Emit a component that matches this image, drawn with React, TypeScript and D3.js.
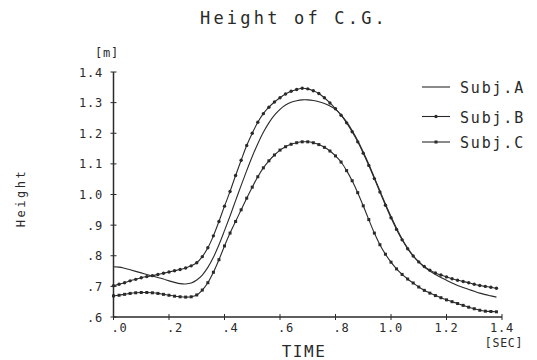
import React from "react";
import * as d3 from "d3";

const TIME_S = [
  0.0, 0.02, 0.04, 0.06, 0.08, 0.1, 0.12, 0.14, 0.16, 0.18,
  0.2, 0.22, 0.24, 0.26, 0.28, 0.3, 0.32, 0.34, 0.36, 0.38,
  0.4, 0.42, 0.44, 0.46, 0.48, 0.5, 0.52, 0.54, 0.56, 0.58,
  0.6, 0.62, 0.64, 0.66, 0.68, 0.7, 0.72, 0.74, 0.76, 0.78,
  0.8, 0.82, 0.84, 0.86, 0.88, 0.9, 0.92, 0.94, 0.96, 0.98,
  1.0, 1.02, 1.04, 1.06, 1.08, 1.1, 1.12, 1.14, 1.16, 1.18,
  1.2, 1.22, 1.24, 1.26, 1.28, 1.3, 1.32, 1.34, 1.36, 1.38,
];

const SUBJ_A = [
  0.764, 0.763, 0.759, 0.754, 0.749, 0.744, 0.739, 0.734, 0.729, 0.724,
  0.718, 0.713, 0.709, 0.708, 0.711, 0.721, 0.737, 0.762, 0.795, 0.836,
  0.882, 0.93, 0.98, 1.03, 1.078, 1.124, 1.166, 1.203, 1.234, 1.259,
  1.278, 1.292, 1.301, 1.306, 1.309, 1.309, 1.307, 1.303, 1.297, 1.289,
  1.278, 1.26, 1.237, 1.209, 1.176, 1.139, 1.099, 1.056, 1.012, 0.969,
  0.928, 0.89, 0.855, 0.825, 0.8, 0.78, 0.763, 0.75, 0.739, 0.729,
  0.72, 0.711, 0.703, 0.696, 0.69, 0.684, 0.678, 0.673, 0.669, 0.665,
];

const SUBJ_B = [
  0.702, 0.707, 0.712, 0.718, 0.723, 0.728, 0.732, 0.735, 0.739, 0.743,
  0.747, 0.751, 0.755, 0.76, 0.767, 0.777, 0.797, 0.826, 0.865, 0.912,
  0.962, 1.01, 1.062, 1.112, 1.16, 1.2, 1.236, 1.264, 1.285, 1.302,
  1.316, 1.328, 1.337, 1.343, 1.347, 1.345, 1.339, 1.33, 1.316, 1.299,
  1.28, 1.259, 1.234, 1.205, 1.172, 1.135, 1.095, 1.052, 1.008, 0.965,
  0.924, 0.886, 0.852, 0.823, 0.799, 0.78, 0.765, 0.753, 0.744, 0.737,
  0.731, 0.725, 0.72, 0.716, 0.712, 0.707, 0.703, 0.7, 0.697, 0.694,
];

const SUBJ_C = [
  0.669, 0.671, 0.674, 0.677, 0.679, 0.68, 0.68, 0.679, 0.677, 0.674,
  0.671, 0.668, 0.666, 0.665, 0.666, 0.672, 0.688, 0.712, 0.746, 0.787,
  0.832, 0.874, 0.912, 0.95, 0.988, 1.024, 1.058, 1.087, 1.11, 1.129,
  1.145, 1.156, 1.164, 1.169, 1.172, 1.172, 1.169, 1.163, 1.154, 1.142,
  1.126, 1.106, 1.078, 1.045, 1.006, 0.963, 0.918, 0.874, 0.836, 0.805,
  0.779, 0.757, 0.739, 0.724, 0.711, 0.698, 0.687, 0.678, 0.67, 0.663,
  0.656, 0.65, 0.644, 0.638, 0.632, 0.627, 0.622, 0.619, 0.618, 0.617,
];

const X_TICKS = [0, 0.2, 0.4, 0.6, 0.8, 1.0, 1.2, 1.4];
const X_TICK_LABELS = [".0", ".2", ".4", ".6", ".8", "1.0", "1.2", "1.4"];
const Y_TICKS = [0.6, 0.7, 0.8, 0.9, 1.0, 1.1, 1.2, 1.3, 1.4];
const Y_TICK_LABELS = [".6", ".7", ".8", ".9", "1.0", "1.1", "1.2", "1.3", "1.4"];
const LEGEND = ["Subj.A", "Subj.B", "Subj.C"];

const INK = "#2a2a2a";
const FONT = "'DejaVu Sans Mono', monospace";

export default function App() {
  const x = d3.scaleLinear().domain([0, 1.4]).range([113.5, 502]);
  const y = d3.scaleLinear().domain([0.6, 1.4]).range([317, 72]);

  const line = d3
    .line<number>()
    .x((_, i) => x(TIME_S[i]))
    .y((d) => y(d))
    .curve(d3.curveCatmullRom);

  const series = [SUBJ_A, SUBJ_B, SUBJ_C];
  const legendY = [87, 116.5, 142];
  const legendTextY = [93, 122.5, 148];

  return (
    <svg
      width={537}
      height={360}
      style={{ position: "absolute", left: 0, top: 0, background: "#fff" }}
    >
      <text
        x={294}
        y={24}
        textAnchor="middle"
        fontFamily={FONT}
        fontSize={17}
        letterSpacing={3.2}
        fill={INK}
      >
        Height of C.G.
      </text>

      {/* axes */}
      <line x1={x(0)} x2={x(0)} y1={y(1.4)} y2={y(0.6)} stroke={INK} strokeWidth={1.5} />
      <line x1={x(0)} x2={x(1.4)} y1={y(0.6)} y2={y(0.6)} stroke={INK} strokeWidth={1.5} />

      {Y_TICKS.map((t, i) => (
        <g key={"y" + i}>
          <line x1={x(0) - 3} x2={x(0) + 3} y1={y(t)} y2={y(t)} stroke={INK} strokeWidth={1} />
          <text
            x={103}
            y={y(t) + 4.5}
            textAnchor="end"
            fontFamily={FONT}
            fontSize={12}
            letterSpacing={0.8}
            fill={INK}
          >
            {Y_TICK_LABELS[i]}
          </text>
        </g>
      ))}

      {X_TICKS.map((t, i) => (
        <g key={"x" + i}>
          <line x1={x(t)} x2={x(t)} y1={y(0.6) - 3} y2={y(0.6) + 3} stroke={INK} strokeWidth={1} />
          <text
            x={X_TICK_LABELS[i].length === 2 ? x(t) + 6 : x(t)}
            y={332}
            textAnchor="middle"
            fontFamily={FONT}
            fontSize={12}
            letterSpacing={0.8}
            fill={INK}
          >
            {X_TICK_LABELS[i]}
          </text>
        </g>
      ))}

      <text x={95} y={57} fontFamily={FONT} fontSize={12} letterSpacing={0.8} fill={INK}>
        [m]
      </text>
      <text
        x={504}
        y={347}
        textAnchor="middle"
        fontFamily={FONT}
        fontSize={11.5}
        letterSpacing={0.8}
        fill={INK}
      >
        [SEC]
      </text>
      <text
        x={304}
        y={357}
        textAnchor="middle"
        fontFamily={FONT}
        fontSize={16}
        letterSpacing={1.5}
        fill={INK}
      >
        TIME
      </text>
      <text
        transform={`translate(25,198) rotate(-90)`}
        textAnchor="middle"
        fontFamily={FONT}
        fontSize={12}
        letterSpacing={2.5}
        fill={INK}
      >
        Height
      </text>

      {/* series */}
      {series.map((s, k) => (
        <path key={"s" + k} d={line(s) || ""} fill="none" stroke={INK} strokeWidth={1.1} />
      ))}
      {SUBJ_B.map((v, i) => (
        <circle key={"b" + i} cx={x(TIME_S[i])} cy={y(v)} r={1.7} fill={INK} />
      ))}
      {SUBJ_C.map((v, i) => (
        <rect key={"c" + i} x={x(TIME_S[i]) - 1.5} y={y(v) - 1.5} width={3} height={3} fill={INK} />
      ))}

      {/* legend */}
      {LEGEND.map((name, i) => (
        <g key={"l" + i}>
          <line x1={422} x2={450} y1={legendY[i]} y2={legendY[i]} stroke={INK} strokeWidth={1.1} />
          {i === 1 && <circle cx={436} cy={legendY[i]} r={1.7} fill={INK} />}
          {i === 2 && <rect x={434.5} y={legendY[i] - 1.5} width={3} height={3} fill={INK} />}
          <text
            x={460}
            y={legendTextY[i]}
            fontFamily={FONT}
            fontSize={15}
            letterSpacing={1.8}
            fill={INK}
          >
            {name}
          </text>
        </g>
      ))}
    </svg>
  );
}
